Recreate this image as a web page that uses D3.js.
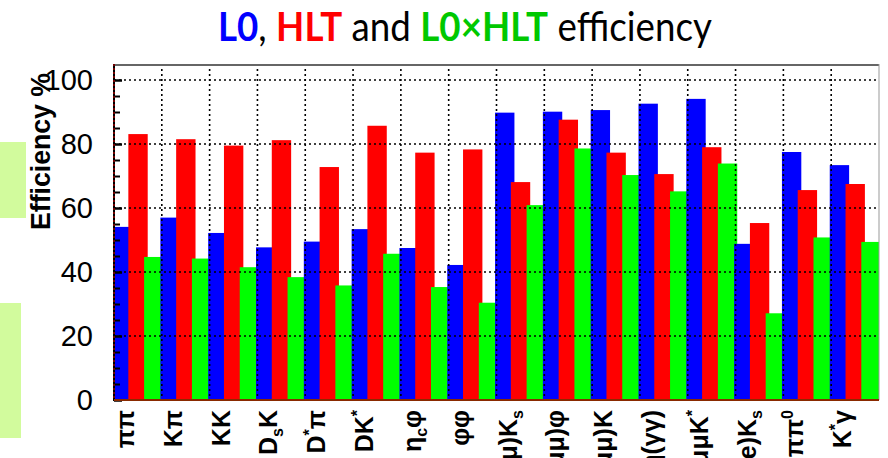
<!DOCTYPE html>
<html>
<head>
<meta charset="utf-8">
<script src="https://cdn.jsdelivr.net/npm/d3@7/dist/d3.min.js"></script>
<style>
  html, body { margin: 0; padding: 0; background: #fff; overflow: hidden; }
  svg { display: block; }
</style>
</head>
<body>
<svg id="chart" width="888" height="458"></svg>
<script>
// Decay channels (markup: "_x" = subscript char, "^x" = superscript char)
const categories = [
  "ππ", "Kπ", "KK", "D_sK", "D^*π", "DK^*", "η_cφ", "φφ",
  "J/ψ(μμ)K_s", "J/ψ(μμ)φ", "J/ψ(μμ)K", "J/ψ(μμ)η(γγ)",
  "μμK^*", "J/ψ(ee)K_s", "ππ^0", "K^*γ"
];
// Trigger efficiencies in percent
const l0Eff    = [54.1, 57.0, 52.2, 47.7, 49.5, 53.4, 47.5, 42.2, 89.8, 90.1, 90.6, 92.6, 94.1, 48.8, 77.5, 73.4];
const hltEff   = [83.1, 81.5, 79.5, 81.2, 72.8, 85.7, 77.3, 78.3, 68.1, 87.6, 77.3, 70.6, 79.0, 55.3, 65.6, 67.5];
const l0hltEff = [44.7, 44.2, 41.5, 38.4, 35.8, 45.7, 35.3, 30.4, 60.9, 78.6, 70.3, 65.2, 73.9, 27.1, 50.8, 49.4];
const yTicks = [0, 20, 40, 60, 80, 100];

const colors = { L0: "#0000ff", HLT: "#ff0000", "L0×HLT": "#00ff00" };

const svg = d3.select("#chart");
const plot = { left: 114, right: 879, top: 64, bottom: 400 };

const x = d3.scaleBand().domain(categories).range([plot.left, plot.right]).padding(0);
const y = d3.scaleLinear().domain([0, 105]).range([plot.bottom, plot.top]);
const bw = x.bandwidth();

// side decorations
svg.append("rect").attr("x", 0).attr("y", 142).attr("width", 26).attr("height", 76).attr("fill", "#d2fb9d");
svg.append("rect").attr("x", 0).attr("y", 303).attr("width", 21).attr("height", 135).attr("fill", "#d2fb9d");

// Title: natural width measured, then squeezed horizontally to fit
const titleG = svg.append("g");
const title = titleG.append("text")
  .attr("x", 0).attr("y", 0)
  .attr("font-family", "Lato, 'Open Sans', sans-serif")
  .attr("font-size", 41);
[["L0", "#0000ff", "bold"], [", ", "#000", "normal"], ["HLT", "#ff0000", "bold"],
 [" and ", "#000", "normal"], ["L0×HLT", "#00c800", "bold"], [" efficiency", "#000", "normal"]]
  .forEach(([t, c, w]) => title.append("tspan").text(t).attr("fill", c).attr("font-weight", w)
    .style("white-space", "pre"));
title.attr("xml:space", "preserve");
const natW = title.node().getComputedTextLength();
titleG.attr("transform", `translate(218,41) scale(${494 / natW},1)`);

// clip for bars
svg.append("clipPath").attr("id", "plotclip").append("rect")
  .attr("x", plot.left).attr("y", plot.top)
  .attr("width", plot.right - plot.left).attr("height", plot.bottom - plot.top);

// Bars: each channel draws blue, red, green overlapping, in channel order
const offsets = { L0: -0.03, HLT: 0.30, "L0×HLT": 0.63 };
const barW = 0.405 * bw;
const rows = categories.map((c, i) => ({
  cat: c,
  vals: [["L0", l0Eff[i]], ["HLT", hltEff[i]], ["L0×HLT", l0hltEff[i]]]
}));
const barsG = svg.append("g").attr("clip-path", "url(#plotclip)");
rows.forEach(r => {
  r.vals.forEach(([s, v]) => {
    barsG.append("rect")
      .attr("x", x(r.cat) + offsets[s] * bw)
      .attr("y", y(v))
      .attr("width", barW)
      .attr("height", y(0) - y(v))
      .attr("fill", colors[s]);
  });
});

// Grid (dotted, on top of bars)
const grid = svg.append("g").attr("stroke", "#000").attr("stroke-width", 1.6).attr("stroke-dasharray", "2,3");
yTicks.filter(t => t > 0).forEach(t => {
  grid.append("line").attr("x1", plot.left).attr("x2", plot.right)
    .attr("y1", y(t)).attr("y2", y(t));
});
categories.slice(1).forEach(c => {
  grid.append("line").attr("x1", x(c)).attr("x2", x(c))
    .attr("y1", plot.top).attr("y2", plot.bottom);
});

// Frame
svg.append("line").attr("x1", plot.left).attr("x2", plot.right).attr("y1", plot.top + 1).attr("y2", plot.top + 1)
  .attr("stroke", "#666").attr("stroke-width", 2);
svg.append("line").attr("x1", plot.right).attr("x2", plot.right).attr("y1", plot.top).attr("y2", plot.bottom)
  .attr("stroke", "#999").attr("stroke-width", 1);

// Y axis with inward ticks
const yAxis = d3.axisRight(y).tickValues(d3.range(0, 101, 5)).tickSize(0).tickFormat("");
const yg = svg.append("g").attr("transform", `translate(${plot.left},0)`).call(yAxis);
yg.select(".domain").remove();
yg.selectAll(".tick line")
  .attr("x2", d => (d % 20 === 0 ? 8 : 6))
  .attr("stroke", "#000")
  .attr("stroke-width", d => (d % 20 === 0 ? 2.5 : 2));
svg.append("line").attr("x1", plot.left).attr("x2", plot.left).attr("y1", plot.top).attr("y2", plot.bottom + 1)
  .attr("stroke", "#000").attr("stroke-width", 2);
svg.append("line").attr("x1", plot.left).attr("x2", plot.left).attr("y1", plot.top).attr("y2", plot.bottom)
  .attr("stroke", "#e00000").attr("stroke-width", 1).attr("stroke-dasharray", "2,2");
svg.append("line").attr("x1", plot.left).attr("x2", plot.right).attr("y1", plot.bottom).attr("y2", plot.bottom)
  .attr("stroke", "#8a2a00").attr("stroke-width", 2);

// Y tick labels
svg.append("g").selectAll("text").data(yTicks).join("text")
  .attr("x", 93).attr("y", d => y(d) + 10)
  .attr("text-anchor", "end")
  .attr("font-family", "'Liberation Sans', Arial, sans-serif")
  .attr("font-size", 29)
  .attr("fill", "#000")
  .text(d => d);

// Y axis title
svg.append("text")
  .attr("transform", "translate(50,230) rotate(-90)")
  .attr("font-family", "'Liberation Sans', Arial, sans-serif")
  .attr("font-size", 28).attr("font-weight", "bold")
  .attr("textLength", 157).attr("lengthAdjust", "spacingAndGlyphs")
  .attr("fill", "#000")
  .text("Efficiency %");

// Category labels (rotated, reading upward)
function addRich(textSel, s) {
  let shift = 0;
  for (let i = 0; i < s.length; i++) {
    const ch = s[i];
    if ((ch === "_" || ch === "^") && i + 1 < s.length) {
      const d = ch === "_" ? 6 : -10;
      textSel.append("tspan").attr("dy", d - shift).attr("font-size", 16).text(s[i + 1]);
      shift = d;
      i++;
    } else {
      const t = textSel.append("tspan").text(ch);
      if (shift !== 0) { t.attr("dy", -shift); shift = 0; }
    }
  }
}
const xl = svg.append("g");
categories.forEach(c => {
  const t = xl.append("text")
    .attr("transform", `translate(${x(c) + 20},410) rotate(-90)`)
    .attr("text-anchor", "end")
    .attr("font-family", "'Liberation Sans', Arial, sans-serif")
    .attr("font-size", 25).attr("font-weight", "bold")
    .attr("fill", "#000");
  addRich(t, c);
});
</script>
</body>
</html>
